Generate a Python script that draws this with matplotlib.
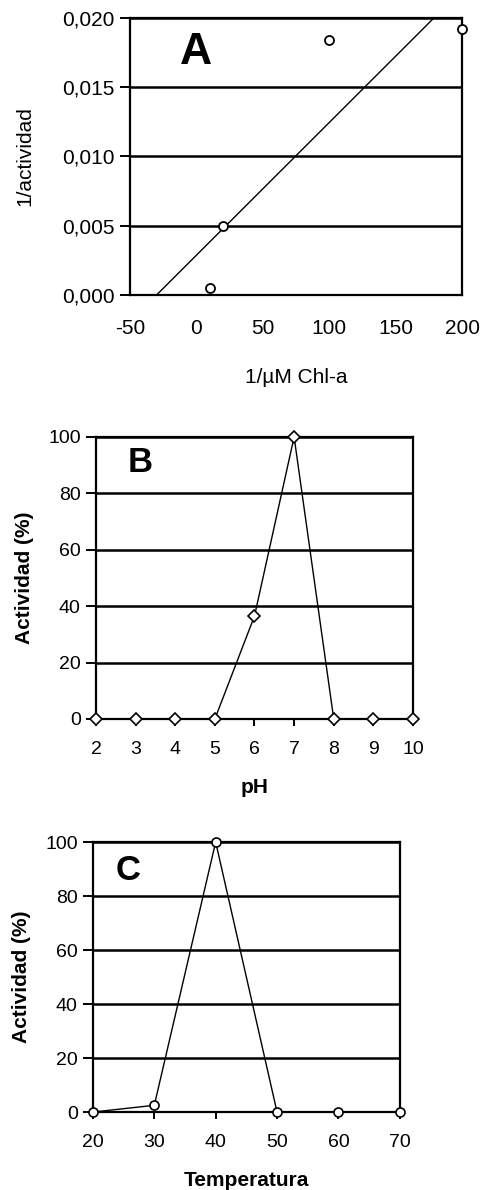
import numpy as np
import matplotlib
matplotlib.use("Agg")
import matplotlib.pyplot as plt
from matplotlib.ticker import FixedLocator

plt.rcParams['font.family'] = ['Liberation Sans', 'DejaVu Sans']
plt.rcParams['axes.unicode_minus'] = False

# ---- Panel A data (Lineweaver-Burk) ----
a_x = [10, 20, 100, 200]
a_y = [0.0005, 0.005, 0.0184, 0.0192]
a_xticks = [-50, 0, 50, 100, 150, 200]
a_yticks = [0.000, 0.005, 0.010, 0.015, 0.020]
a_ytick_labels = ["0,000", "0,005", "0,010", "0,015", "0,020"]
a_trend_start = -30

# ---- Panel B data (pH) ----
b_ph = [2, 3, 4, 5, 6, 7, 8, 9, 10]
b_act = [0, 0, 0, 0, 36.5, 100, 0, 0, 0]
b_yticks = [0, 20, 40, 60, 80, 100]

# ---- Panel C data (Temperatura) ----
c_temp = [20, 30, 40, 50, 60, 70]
c_act = [0, 2.5, 100, 0, 0, 0]
c_yticks = [0, 20, 40, 60, 80, 100]

fig = plt.figure(figsize=(4.84, 11.90), dpi=100)

TICK_FS = 14
LAB_FS = 15
GRID_LW = 1.8
FRAME_LW = 1.6


def style_axes(ax, xticks_out=True):
    for s in ax.spines.values():
        s.set_color('black')
        s.set_linewidth(FRAME_LW)
    ax.tick_params(axis='y', direction='out', length=7, width=1.4,
                   labelsize=TICK_FS, pad=4)
    if xticks_out:
        ax.tick_params(axis='x', direction='out', length=5, width=1.4,
                       labelsize=TICK_FS, pad=11)
    else:
        ax.tick_params(axis='x', length=0, labelsize=TICK_FS + 1, pad=17)
    ax.yaxis.grid(True, color='black', linewidth=GRID_LW)
    ax.xaxis.grid(False)
    ax.set_axisbelow(True)


# ---------- Panel A ----------
axA = fig.add_axes([0.2686, 0.7521, 0.686, 0.2328])
axA.set_xlim(-50, 200)
axA.set_ylim(0, 0.020)
axA.xaxis.set_major_locator(FixedLocator(a_xticks))
axA.set_yticks(a_yticks)
axA.set_yticklabels(a_ytick_labels)
style_axes(axA, xticks_out=False)
axA.tick_params(axis='y', labelsize=TICK_FS + 1)
slope, intercept = np.polyfit(a_x, a_y, 1)
tx = np.array([a_trend_start, max(a_x)])
axA.plot(tx, slope * tx + intercept, color='black', lw=1.0, clip_on=True)
axA.plot(a_x, a_y, linestyle='none', marker='o', ms=6.5, mfc='white',
         mec='black', mew=1.3, clip_on=False, zorder=5)
axA.set_ylabel("1/actividad", fontsize=LAB_FS, labelpad=20)
axA.set_xlabel("1/\u00b5M Chl-a", fontsize=LAB_FS, labelpad=22)
axA.text(0.2, 0.877, "A", transform=axA.transAxes, fontsize=32,
         fontweight='bold', ha='center', va='center')

# ---------- Panel B ----------
axB = fig.add_axes([0.1983, 0.3958, 0.655, 0.237])
axB.set_xlim(2, 10)
axB.set_ylim(0, 100)
axB.set_xticks(b_ph)
axB.set_yticks(b_yticks)
style_axes(axB)
axB.plot(b_ph, b_act, color='black', lw=1.0, marker='D', ms=6.5,
         mfc='white', mec='black', mew=1.2, clip_on=False, zorder=5)
axB.set_ylabel("Actividad (%)", fontsize=LAB_FS, fontweight='bold', labelpad=10)
axB.set_xlabel("pH", fontsize=LAB_FS, fontweight='bold', labelpad=14)
axB.text(0.139, 0.91, "B", transform=axB.transAxes, fontsize=25,
         fontweight='bold', ha='center', va='center')

# ---------- Panel C ----------
axC = fig.add_axes([0.192, 0.0655, 0.634, 0.2269])
axC.set_xlim(20, 70)
axC.set_ylim(0, 100)
axC.set_xticks(c_temp)
axC.set_yticks(c_yticks)
style_axes(axC)
axC.plot(c_temp, c_act, color='black', lw=1.0, marker='o', ms=6.5,
         mfc='white', mec='black', mew=1.2, clip_on=False, zorder=5)
axC.set_ylabel("Actividad (%)", fontsize=LAB_FS, fontweight='bold', labelpad=10)
axC.set_xlabel("Temperatura", fontsize=LAB_FS, fontweight='bold', labelpad=14)
axC.text(0.114, 0.893, "C", transform=axC.transAxes, fontsize=25,
         fontweight='bold', ha='center', va='center')

fig.savefig("out.png", dpi=100, facecolor='white')
